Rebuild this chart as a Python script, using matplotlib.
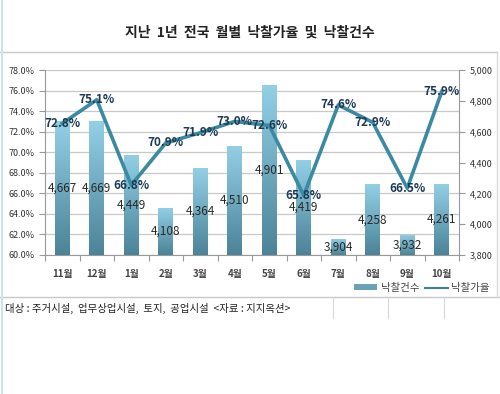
import numpy as np
import matplotlib.pyplot as plt
from matplotlib.patches import Patch
from matplotlib.lines import Line2D

plt.rcParams['font.family'] = ['Noto Sans CJK KR', 'DejaVu Sans']

months = ['11월', '12월', '1월', '2월', '3월', '4월', '5월', '6월', '7월', '8월', '9월', '10월']
counts = [4667, 4669, 4449, 4108, 4364, 4510, 4901, 4419, 3904, 4258, 3932, 4261]
rates = [72.8, 75.1, 66.8, 70.9, 71.9, 73.0, 72.6, 65.8, 74.6, 72.9, 66.5, 75.9]

fig = plt.figure(figsize=(5, 3.94), dpi=100)
W, H = 500, 394

def fx(px):
    return px / W

def fy(py):
    return 1 - py / H

# title and frame lines
fig.text(0.5, fy(33), '지난  1년  전국  월별  낙찰가율  및  낙찰건수', ha='center', va='center',
         fontsize=10, fontweight='bold', color='#222222')
fig.add_artist(Line2D([0, fx(497)], [fy(51.5), fy(51.5)], color='#c8c8c8', lw=1))
fig.add_artist(Line2D([0, 1], [fy(297), fy(297)], color='#c8c8c8', lw=1))
fig.add_artist(Line2D([fx(497), fx(497)], [fy(51.5), fy(297)], color='#d8d8d8', lw=1))
fig.add_artist(Line2D([fx(2), fx(2)], [0, 1], color='#cfe3ec', lw=1.5))
for xs in [333, 388, 444]:
    fig.add_artist(Line2D([fx(xs), fx(xs)], [fy(297), fy(318)], color='#d8d8d8', lw=0.8))
fig.text(fx(5), fy(308), '대상 : 주거시설,  업무상업시설,  토지,  공업시설  <자료 : 지지옥션>',
         ha='left', va='center', fontsize=7.5, color='#222222')

rect = [fx(45), fy(255), fx(459) - fx(45), (255 - 70) / H]
x = np.arange(len(months))

# base axis: percent scale with grid
ax = fig.add_axes(rect)
ax.set_xlim(-0.5, len(months) - 0.5)
ax.set_ylim(60, 78)
ax.set_yticks(np.arange(60, 78.1, 2))
ax.set_yticklabels([f'{v:.1f}%' for v in np.arange(60, 78.1, 2)], fontsize=6.5, color='#333333')
ax.grid(axis='y', color='#c8c8c8', lw=0.9)
ax.set_axisbelow(True)
ax.set_xticks(np.arange(-0.5, len(months), 1))
ax.set_xticklabels([])
ax.set_xticks(x, minor=True)
ax.set_xticklabels(months, minor=True, fontsize=7, fontweight='bold', color='#444444')
ax.tick_params(axis='x', which='major', length=4, color='#999999')
ax.tick_params(axis='x', which='minor', length=0, pad=10)
ax.tick_params(axis='y', length=4, color='#999999')
for s in ['top', 'right']:
    ax.spines[s].set_visible(False)
for s in ['left', 'bottom']:
    ax.spines[s].set_color('#999999')

# bars on right scale
axb = ax.twinx()
axb.set_ylim(3800, 5000)
axb.set_yticks(np.arange(3800, 5001, 200))
axb.set_yticklabels([f'{v:,}' for v in np.arange(3800, 5001, 200)], fontsize=6.5, color='#333333')
axb.tick_params(axis='y', length=4, color='#999999')
for s in ['top', 'left', 'bottom']:
    axb.spines[s].set_visible(False)
axb.spines['right'].set_color('#999999')
bars = axb.bar(x, np.array(counts) - 3800, bottom=3800, width=0.43, color='none', edgecolor='none')
grad = np.linspace(0, 1, 256).reshape(-1, 1)
cmap = plt.matplotlib.colors.LinearSegmentedColormap.from_list('g', ['#4b8398', '#93d0e6'])
for b in bars:
    x0, y0 = b.get_x(), b.get_y()
    im = axb.imshow(grad, extent=[x0, x0 + b.get_width(), y0, y0 + b.get_height()],
                    origin='lower', aspect='auto', cmap=cmap, zorder=2)
    im.set_clip_path(b)
for xi, c in zip(x, counts):
    axb.text(xi, (3800 + c) / 2, f'{c:,}', ha='center', va='center', fontsize=8.5,
             color='#2a2a2a', zorder=5)
axb.set_xlim(-0.5, len(months) - 0.5)

# line on left scale
axl = ax.twinx()
axl.set_ylim(60, 78)
axl.set_yticks([])
axl.set_xlim(-0.5, len(months) - 0.5)
for s in axl.spines.values():
    s.set_visible(False)
axl.plot(x, rates, color='#3a8aa2', lw=2.6, zorder=3)
for xi, r in zip(x, rates):
    axl.text(xi, r, f'{r:.1f}%', ha='center', va='center', fontsize=8.5, fontweight='bold',
             color='#1d3a55', zorder=6)

handles = [Patch(facecolor='#6aa3b8', edgecolor='none'), Line2D([], [], color='#3a7f95', lw=1.5)]
fig.legend(handles, ['낙찰건수', '낙찰가율'], loc='center right', bbox_to_anchor=(fx(495), fy(288)),
           ncol=2, frameon=False, fontsize=7.5, labelcolor='#444444', handlelength=2.2,
           handleheight=0.5, columnspacing=0.6, handletextpad=0.3, borderpad=0)

fig.savefig('out.png', dpi=100)
